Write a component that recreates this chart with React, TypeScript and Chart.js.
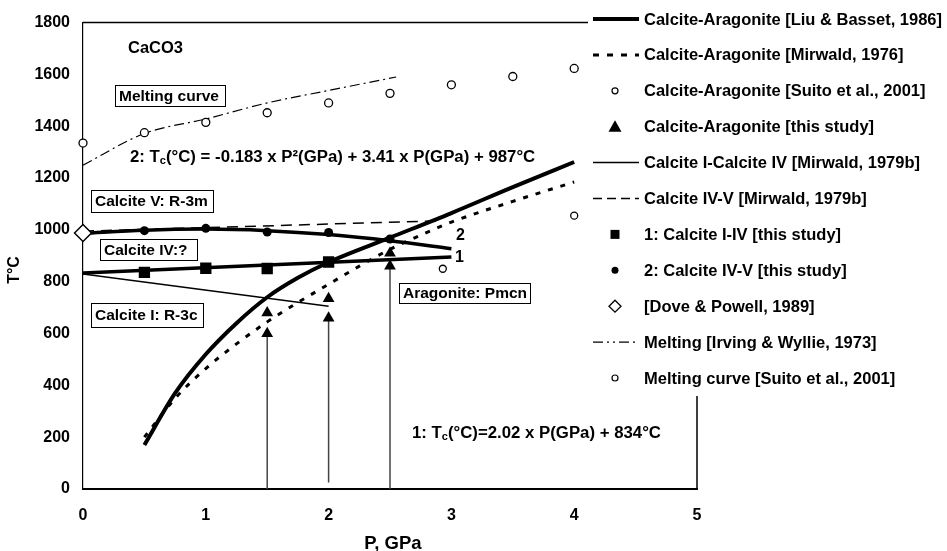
import React, { useEffect, useRef } from 'react';
import { Chart, registerables } from 'chart.js';

Chart.register(...registerables);

const FONT = '"Liberation Sans", Arial, sans-serif';

// ---------- data (P in GPa, T in °C) ----------
const xTicks = [0, 1, 2, 3, 4, 5];
const yTicks = [0, 200, 400, 600, 800, 1000, 1200, 1400, 1600, 1800];

const liuP = [0.5, 0.75, 1, 1.25, 1.5, 1.75, 2, 2.5, 3, 3.5, 4];
const liuT = [170, 370, 520, 640, 740, 815, 875, 970, 1065, 1165, 1262];

const mirwald76P = [0.5, 0.75, 1, 1.25, 1.5, 1.75, 2, 2.25, 2.5, 2.75, 3, 3.5, 4];
const mirwald76T = [200, 350, 465, 560, 645, 720, 790, 860, 925, 980, 1030, 1110, 1185];

const suitoCaP = [2.93, 4];
const suitoCaT = [850, 1055];

const studyTriP = [1.5, 1.5, 2, 2, 2.5, 2.5];
const studyTriT = [680, 600, 735, 660, 910, 860];

const mirwaldI_IV_P = [0, 2];
const mirwaldI_IV_T = [830, 705];

const mirwaldIV_V_P = [0, 2.9];
const mirwaldIV_V_T = [995, 1035];

const calciteI_IV_P = [0.5, 1, 1.5, 2];
const calciteI_IV_T = [836, 852, 851, 876];

const calciteIV_V_P = [0.5, 1, 1.5, 2, 2.5];
const calciteIV_V_T = [997, 1006, 992, 990, 965];

const dovePowellP = [0];
const dovePowellT = [988];

const irvingP = [0, 0.5, 1, 1.5, 2, 2.55];
const irvingT = [1250, 1372, 1428, 1490, 1538, 1590];

const suitoMeltP = [0, 0.5, 1, 1.5, 2, 2.5, 3, 3.5, 4];
const suitoMeltT = [1335, 1375, 1415, 1452, 1490, 1527, 1560, 1592, 1623];

const fit1P = [0, 3];
const fit1T = [834, 895];

const fit2P = [0, 0.5, 1, 1.5, 2, 2.5, 3];
const fit2T = [987, 999, 1003, 997, 982, 958, 927];

const arrowP = [1.5, 2, 2.5];
const arrowFromT = [0, 25, 0];
const arrowToT = [600, 660, 860];

const legendLabels = [
  'Calcite-Aragonite [Liu & Basset, 1986]',
  'Calcite-Aragonite [Mirwald, 1976]',
  'Calcite-Aragonite [Suito et al., 2001]',
  'Calcite-Aragonite [this study]',
  'Calcite I-Calcite IV [Mirwald, 1979b]',
  'Calcite IV-V [Mirwald, 1979b]',
  '1: Calcite I-IV [this study]',
  '2: Calcite IV-V [this study]',
  '[Dove & Powell, 1989]',
  'Melting [Irving & Wyllie, 1973]',
  'Melting curve [Suito et al., 2001]',
];

const pts = (xs: number[], ys: number[]) => xs.map((x, i) => ({ x, y: ys[i] }));

// legend sample kinds, same order as legendLabels
const legendKinds = [
  { kind: 'line', width: 4, dash: [] as number[] },
  { kind: 'line', width: 3, dash: [6, 8] },
  { kind: 'ocircle' },
  { kind: 'triangle' },
  { kind: 'line', width: 1.5, dash: [] as number[] },
  { kind: 'line', width: 1.5, dash: [9, 5] },
  { kind: 'square' },
  { kind: 'fcircle' },
  { kind: 'diamond' },
  { kind: 'line', width: 1.2, dash: [10, 4, 2, 4, 2, 4] },
  { kind: 'ocircle' },
];

function boldFont(size: number) {
  return `bold ${size}px ${FONT}`;
}

const customPlugin = {
  id: 'customDraw',
  beforeDatasetsDraw(chart: any) {
    const { ctx, chartArea: a } = chart;
    ctx.save();
    ctx.strokeStyle = '#000';
    ctx.lineWidth = 1.5;
    ctx.beginPath();
    ctx.moveTo(a.left, a.top);
    ctx.lineTo(a.right, a.top);
    ctx.lineTo(a.right, a.bottom);
    ctx.stroke();
    ctx.restore();
  },
  afterDraw(chart: any) {
    const { ctx } = chart;
    ctx.save();

    // legend panel
    ctx.fillStyle = '#fff';
    ctx.fillRect(588, 0, 947 - 588, 396);

    ctx.textBaseline = 'middle';
    ctx.textAlign = 'left';
    legendLabels.forEach((label, i) => {
      const y = 19 + 35.9 * i;
      const k: any = legendKinds[i];
      ctx.strokeStyle = '#000';
      ctx.fillStyle = '#000';
      ctx.setLineDash([]);
      if (k.kind === 'line') {
        ctx.lineWidth = k.width;
        ctx.setLineDash(k.dash);
        ctx.beginPath();
        ctx.moveTo(593, y);
        ctx.lineTo(639, y);
        ctx.stroke();
        ctx.setLineDash([]);
      } else if (k.kind === 'ocircle') {
        ctx.lineWidth = 1.2;
        ctx.fillStyle = '#fff';
        ctx.beginPath();
        ctx.arc(615, y, 3, 0, Math.PI * 2);
        ctx.fill();
        ctx.stroke();
      } else if (k.kind === 'fcircle') {
        ctx.beginPath();
        ctx.arc(615, y, 3.5, 0, Math.PI * 2);
        ctx.fill();
      } else if (k.kind === 'triangle') {
        ctx.beginPath();
        ctx.moveTo(615, y - 6.5);
        ctx.lineTo(621.5, y + 5);
        ctx.lineTo(608.5, y + 5);
        ctx.closePath();
        ctx.fill();
      } else if (k.kind === 'square') {
        ctx.fillRect(610.5, y - 4.5, 9, 9);
      } else if (k.kind === 'diamond') {
        ctx.lineWidth = 1.3;
        ctx.fillStyle = '#fff';
        ctx.beginPath();
        ctx.moveTo(615, y - 6);
        ctx.lineTo(621, y);
        ctx.lineTo(615, y + 6);
        ctx.lineTo(609, y);
        ctx.closePath();
        ctx.fill();
        ctx.stroke();
      }
      ctx.fillStyle = '#000';
      ctx.font = boldFont(16.5);
      ctx.fillText(label, 644, y + 1);
    });

    // boxed region labels
    const boxes = [
      { t: 'Melting curve', x: 115, y: 85, w: 110, h: 21 },
      { t: 'Calcite V: R-3m', x: 91, y: 190, w: 122, h: 22 },
      { t: 'Calcite IV:?', x: 100, y: 239, w: 97, h: 21 },
      { t: 'Calcite I: R-3c', x: 91, y: 303, w: 112, h: 24 },
      { t: 'Aragonite: Pmcn', x: 399, y: 283, w: 131, h: 20 },
    ];
    ctx.font = boldFont(15.5);
    boxes.forEach((b) => {
      ctx.fillStyle = '#fff';
      ctx.fillRect(b.x, b.y, b.w, b.h);
      ctx.strokeStyle = '#000';
      ctx.lineWidth = 1;
      ctx.strokeRect(b.x + 0.5, b.y + 0.5, b.w, b.h);
      ctx.fillStyle = '#000';
      ctx.fillText(b.t, b.x + 4, b.y + b.h / 2 + 1);
    });

    // free text
    ctx.font = boldFont(16.5);
    ctx.fillText('CaCO3', 128, 48);

    const drawEq = (x: number, y: number, pre: string, post: string) => {
      ctx.font = boldFont(16.8);
      ctx.fillText(pre, x, y);
      let cx = x + ctx.measureText(pre).width;
      ctx.font = boldFont(11);
      ctx.fillText('c', cx, y + 4);
      cx += ctx.measureText('c').width;
      ctx.font = boldFont(16.8);
      ctx.fillText(post, cx, y);
    };
    drawEq(130, 157, '2: T', '(°C) = -0.183 x P²(GPa) + 3.41 x P(GPa) + 987°C');
    drawEq(412, 433, '1: T', '(°C)=2.02 x P(GPa) + 834°C');

    ctx.font = boldFont(16);
    ctx.fillText('1', 455, 258);
    ctx.fillText('2', 456, 236);

    // axis titles
    ctx.font = boldFont(18.5);
    ctx.textAlign = 'center';
    ctx.fillText('P, GPa', 393, 544);
    ctx.save();
    ctx.translate(15, 270);
    ctx.rotate(-Math.PI / 2);
    ctx.font = boldFont(16);
    ctx.fillText('T°C', 0, 0);
    ctx.restore();

    ctx.restore();
  },
};

export default function App() {
  const canvasRef = useRef<HTMLCanvasElement | null>(null);

  useEffect(() => {
    document.body.style.margin = '0';
    const canvas = canvasRef.current;
    if (!canvas) return;

    const arrowSets = arrowP.map((p, i) => ({
      label: 'arrow' + i,
      data: [
        { x: p, y: arrowFromT[i] },
        { x: p, y: arrowToT[i] },
      ],
      showLine: true,
      borderColor: '#444',
      borderWidth: 1.5,
      pointRadius: 0,
      order: 20,
    }));

    const chart = new Chart(canvas, {
      type: 'scatter',
      data: {
        datasets: [
          {
            label: legendLabels[8],
            data: pts(dovePowellP, dovePowellT),
            pointStyle: 'rectRot',
            pointRadius: 8.5,
            backgroundColor: '#fff',
            borderColor: '#000',
            borderWidth: 1.5,
            clip: false,
            order: 0,
          },
          {
            label: legendLabels[3],
            data: pts(studyTriP, studyTriT),
            pointStyle: 'triangle',
            pointRadius: 6.8,
            backgroundColor: '#000',
            borderColor: '#000',
            borderWidth: 0,
            order: 1,
          },
          {
            label: legendLabels[6],
            data: pts(calciteI_IV_P, calciteI_IV_T),
            pointStyle: 'rect',
            pointRadius: 8,
            backgroundColor: '#000',
            borderColor: '#000',
            borderWidth: 0,
            order: 2,
          },
          {
            label: legendLabels[7],
            data: pts(calciteIV_V_P, calciteIV_V_T),
            pointStyle: 'circle',
            pointRadius: 4.5,
            backgroundColor: '#000',
            borderColor: '#000',
            borderWidth: 0,
            order: 3,
          },
          {
            label: legendLabels[2],
            data: pts(suitoCaP, suitoCaT),
            pointStyle: 'circle',
            pointRadius: 3.5,
            backgroundColor: '#fff',
            borderColor: '#000',
            borderWidth: 1.3,
            order: 4,
          },
          {
            label: legendLabels[10],
            data: pts(suitoMeltP, suitoMeltT),
            pointStyle: 'circle',
            pointRadius: 4,
            backgroundColor: '#fff',
            borderColor: '#000',
            borderWidth: 1.3,
            clip: false,
            order: 5,
          },
          {
            label: 'fit 1',
            data: pts(fit1P, fit1T),
            showLine: true,
            borderColor: '#000',
            borderWidth: 3.5,
            pointRadius: 0,
            order: 6,
          },
          {
            label: 'fit 2',
            data: pts(fit2P, fit2T),
            showLine: true,
            borderColor: '#000',
            borderWidth: 3.5,
            pointRadius: 0,
            cubicInterpolationMode: 'monotone',
            order: 7,
          },
          {
            label: legendLabels[0],
            data: pts(liuP, liuT),
            showLine: true,
            borderColor: '#000',
            borderWidth: 4,
            pointRadius: 0,
            cubicInterpolationMode: 'monotone',
            order: 8,
          },
          {
            label: legendLabels[1],
            data: pts(mirwald76P, mirwald76T),
            showLine: true,
            borderColor: '#000',
            borderWidth: 3,
            borderDash: [5, 8],
            pointRadius: 0,
            cubicInterpolationMode: 'monotone',
            order: 9,
          },
          {
            label: legendLabels[4],
            data: pts(mirwaldI_IV_P, mirwaldI_IV_T),
            showLine: true,
            borderColor: '#000',
            borderWidth: 1.5,
            pointRadius: 0,
            order: 10,
          },
          {
            label: legendLabels[5],
            data: pts(mirwaldIV_V_P, mirwaldIV_V_T),
            showLine: true,
            borderColor: '#000',
            borderWidth: 1.5,
            borderDash: [11, 7],
            pointRadius: 0,
            order: 11,
          },
          {
            label: legendLabels[9],
            data: pts(irvingP, irvingT),
            showLine: true,
            borderColor: '#000',
            borderWidth: 1.2,
            borderDash: [10, 4, 2, 4],
            pointRadius: 0,
            cubicInterpolationMode: 'monotone',
            order: 12,
          },
          ...arrowSets,
        ] as any,
      },
      options: {
        animation: false,
        responsive: false,
        maintainAspectRatio: false,
        layout: { padding: { top: 21, right: 250, left: 0, bottom: 0 } },
        plugins: {
          legend: { display: false },
          tooltip: { enabled: false },
        },
        scales: {
          x: {
            type: 'linear',
            min: 0,
            max: 5,
            afterFit: (s: any) => {
              s.height = 62;
            },
            afterBuildTicks: (s: any) => {
              s.ticks = xTicks.map((v) => ({ value: v }));
            },
            grid: { display: false, drawTicks: false },
            border: { display: true, color: '#000', width: 2 },
            ticks: {
              color: '#000',
              padding: 17,
              font: { family: FONT, size: 16, weight: 'bold' },
              maxRotation: 0,
              callback: (v: any) => String(v),
            },
          },
          y: {
            type: 'linear',
            min: 0,
            max: 1800,
            afterFit: (s: any) => {
              s.width = 83;
            },
            afterBuildTicks: (s: any) => {
              s.ticks = yTicks.map((v) => ({ value: v }));
            },
            grid: { display: false, drawTicks: false },
            border: { display: true, color: '#000', width: 1.2 },
            ticks: {
              color: '#000',
              padding: 13,
              font: { family: FONT, size: 16, weight: 'bold' },
              callback: (v: any) => String(v),
            },
          },
        },
      } as any,
      plugins: [customPlugin],
    });

    return () => {
      chart.destroy();
    };
  }, []);

  return (
    <div style={{ width: 947, height: 551, background: '#fff' }}>
      <canvas ref={canvasRef} width={947} height={551} style={{ display: 'block', width: 947, height: 551 }} />
    </div>
  );
}
